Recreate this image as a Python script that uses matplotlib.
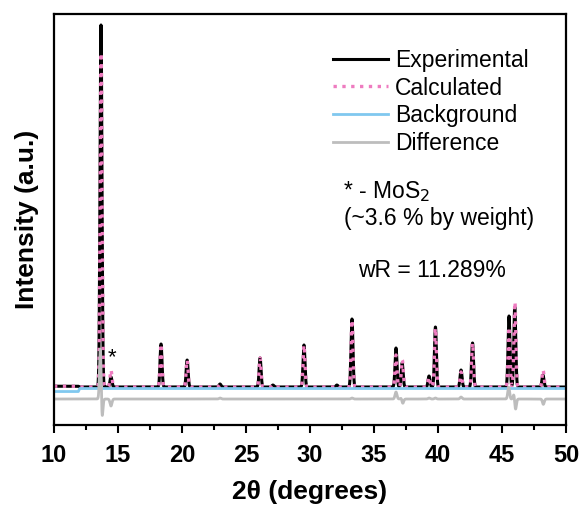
import numpy as np
import matplotlib.pyplot as plt

plt.rcParams['font.family'] = ['Liberation Sans', 'DejaVu Sans']

# Peak list (2theta, heights in arbitrary units)
peak_pos = [13.67, 14.45, 18.36, 20.40, 22.97, 26.10, 27.10, 29.53, 32.10, 33.28,
            36.72, 37.20, 39.30, 39.80, 41.80, 42.70, 45.55, 46.00, 48.20]
exp_height = [362, 10, 43, 27, 3, 29, 2, 42, 2, 68,
              39, 24, 11, 60, 17, 44, 71, 80, 12]
calc_height = [334, 17, 43, 27, 2, 29, 2, 42, 2, 67,
               32, 27, 10, 59, 15, 44, 60, 85, 17]
calc_pos = [13.681, 14.45, 18.36, 20.40, 22.97, 26.10, 27.10, 29.53, 32.10, 33.28,
            36.72, 37.21, 39.30, 39.80, 41.80, 42.70, 45.555, 46.01, 48.21]

# Background (step near 12 degrees) and baselines
bg_x = [10.0, 11.9, 12.0, 50.0]
bg_y = [-4.5, -4.5, -1.5, -1.5]
base_x = [10.0, 11.9, 12.0, 50.0]
base_y = [0.8, 0.8, 0.0, 0.0]
diff_offset = -12

x = np.linspace(10, 50, 8001)
sigma = 0.075


def profile(pos, height):
    y = np.zeros_like(x)
    for p, h in zip(pos, height):
        y += h * np.exp(-0.5 * ((x - p) / sigma) ** 2)
    return y


base = np.interp(x, base_x, base_y)
exp = profile(peak_pos, exp_height) + base
calc = profile(calc_pos, calc_height) + base
bg = np.interp(x, bg_x, bg_y)
diff = exp - calc + diff_offset

fig = plt.figure(figsize=(5.79, 5.07), dpi=100)
ax = fig.add_axes([0.0933, 0.1617, 0.8842, 0.8107])

ax.plot(x, exp, color='black', lw=2.2, label='Experimental')
ax.plot(x, calc, color='#ee7cc0', lw=2.4, ls=':', label='Calculated')
ax.plot(x, bg, color='#80c8ef', lw=2.0, label='Background')
ax.plot(x, diff, color='#bdbdbd', lw=2.0, label='Difference')

ax.set_xlim(10, 50)
ax.set_ylim(-38, 373)
ax.set_yticks([])
ax.set_xticks(np.arange(10, 51, 5))
ax.set_xticks(np.arange(12.5, 50, 5), minor=True)
ax.tick_params(axis='x', which='major', direction='out', length=6, width=1.5,
               labelsize=17, pad=8)
ax.tick_params(axis='x', which='minor', direction='out', length=3.5, width=1.5)
for lab in ax.get_xticklabels():
    lab.set_fontweight('bold')
for s in ax.spines.values():
    s.set_linewidth(1.6)

ax.set_xlabel('2\u03b8 (degrees)', fontsize=19, fontweight='bold', labelpad=9)
ax.set_ylabel('Intensity (a.u.)', fontsize=19, fontweight='bold', labelpad=11)

ax.text(14.55, 29, '*', fontsize=16, ha='center', va='center')
ax.text(0.564, 0.567, '* - MoS$_2$', transform=ax.transAxes, fontsize=16.5,
        va='center')
ax.text(0.566, 0.503, '(~3.6 % by weight)', transform=ax.transAxes, fontsize=16.5,
        va='center')
ax.text(0.594, 0.377, 'wR = 11.289%', transform=ax.transAxes, fontsize=16.5,
        va='center')

ax.legend(loc='upper left', bbox_to_anchor=(0.545, 0.915), frameon=False,
          fontsize=16.5, handlelength=2.4, handletextpad=0.3, labelspacing=0.2,
          borderaxespad=0, borderpad=0)

fig.savefig('out.png', dpi=100)
